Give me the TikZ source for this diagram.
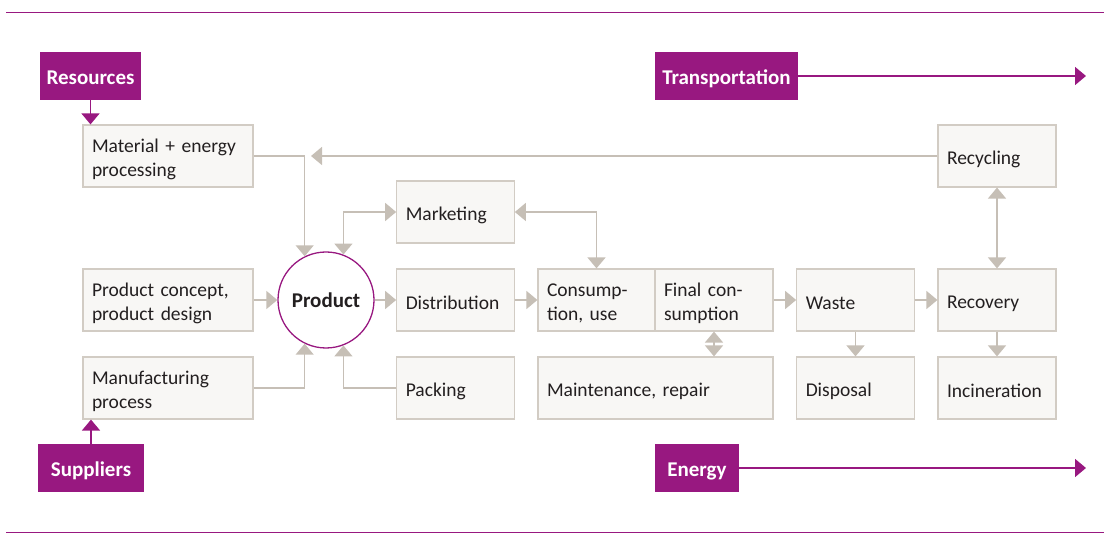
\documentclass[tikz,border=0pt]{standalone}
\usepackage{fontspec}
\setmainfont{Carlito}
\usetikzlibrary{arrows.meta,calc}
\definecolor{mag}{RGB}{152,24,128}
\definecolor{boxfill}{RGB}{248,247,245}
\definecolor{boxline}{RGB}{210,204,196}
\definecolor{conn}{RGB}{198,191,182}
\definecolor{ink}{RGB}{35,31,32}
\begin{document}
\begin{tikzpicture}[x=1pt,y=-1pt,
  font=\fontsize{19.5}{24}\selectfont,
  box/.style={draw=boxline, fill=boxfill, line width=1.2pt, text=ink,
    minimum height=62pt, inner xsep=9pt, inner ysep=0pt, align=left,
    execute at begin node={\rule{0pt}{20pt}}},
  wide/.style={box, text width=152pt},
  mid/.style={box, text width=99.5pt},
  tag/.style={fill=mag, text=white, font=\fontsize{21}{24}\selectfont\bfseries,
    minimum height=48pt, inner sep=0pt, align=center,
    text height=18pt, text depth=0pt},
  tip/.tip={Triangle[width=18pt,length=11pt]},
  garrow/.style={draw=conn, line width=1.5pt, -tip},
  gboth/.style={draw=conn, line width=1.5pt, tip-tip},
  marrow/.style={draw=mag, line width=1.5pt, -tip},
  rule/.style={draw=mag, line width=1pt}]
\useasboundingbox (0,0) rectangle (1104,534);

% horizontal rules
\coordinate (tl) at (6,12.5);
\coordinate (tr) at (1104,12.5);
\coordinate (bl) at (6,532.5);
\coordinate (br) at (1104,532.5);
\draw[rule] (tl) -- (tr);
\draw[rule] (bl) -- (br);

% tags
\node[tag, minimum width=101pt] (res) at (90.5,76) {Resources};
\node[tag, minimum width=106pt] (sup) at (91,468) {Suppliers};
\node[tag, minimum width=143pt] (trans) at (726.5,76) {Transportation};
\node[tag, minimum width=84pt] (ener) at (697,468) {Energy};
\coordinate (transend) at (1086,76);
\coordinate (enerend) at (1086,468);

% left column
\node[wide] (mat) at (168,156) {Material + energy\\processing};
\node[wide] (con) at (168,300) {Product concept,\\product design};
\node[wide] (man) at (168,388) {Manufacturing\\process};

% product
\node[circle, draw=mag, line width=1.3pt, fill=white, minimum size=96pt,
  inner sep=0pt, text=ink, font=\fontsize{21}{24}\selectfont\bfseries] (prod) at (326,300) {Product};

% middle column
\node[mid] (mkt) at (455.5,212) {Marketing};
\node[mid] (dist) at (455.5,300) {Distribution};
\node[mid] (pack) at (455.5,388) {Packing};

% consumption block
\node[box, text width=99pt] (cons) at (596.5,300) {Consump-\\tion, use};
\node[box, text width=100pt] (fin) at (714,300) {Final con-\\sumption};
\node[box, text width=217pt] (maint) at (655.5,388) {Maintenance, repair};

% end of life
\node[mid] (waste) at (855.5,300) {Waste};
\node[mid] (disp) at (855.5,388) {Disposal};
\node[box, text width=100pt] (recov) at (997,300) {Recovery};
\node[box, text width=100pt] (recyc) at (997,156) {Recycling};
\node[box, text width=100pt] (incin) at (997,388) {Incineration};
\coordinate (recin) at (311,156);

% magenta connectors
\draw[marrow] (res.south) -- (res.south |- mat.north);
\draw[marrow] (sup.north) -- (sup.north |- man.south);
\draw[marrow] (trans.east) -- (transend);
\draw[marrow] (ener.east) -- (enerend);

% grey connectors
\draw[garrow] (mat.east) -| (prod.116);
\draw[garrow] (man.east) -| (prod.-116);
\draw[gboth] (mkt.west) -| (prod.69);
\draw[garrow] (pack.west) -| (prod.-69);
\draw[garrow] (con.east) -- (prod.west);
\draw[garrow] (prod.east) -- (dist.west);
\draw[gboth] (mkt.east) -| (cons.north);
\draw[garrow] (dist.east) -- (cons.west);
\draw[garrow] (fin.east) -- (waste.west);
\draw[garrow] (waste.east) -- (recov.west);
\draw[gboth] (fin.south) -- (fin.south |- maint.north);
\draw[garrow] (waste.south) -- (disp.north);
\draw[garrow] (recov.south) -- (incin.north);
\draw[gboth] (recov.north) -- (recyc.south);
\draw[garrow] (recyc.west) -- (recin);
\end{tikzpicture}
\end{document}
